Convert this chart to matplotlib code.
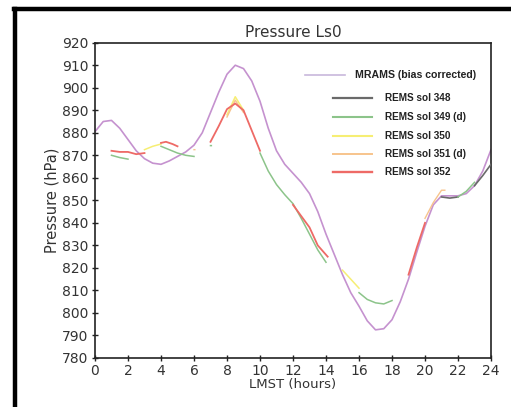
import numpy as np
import matplotlib
matplotlib.use("Agg")
import matplotlib.pyplot as plt
from matplotlib.lines import Line2D

nan = np.nan

# MRAMS model curve (bias corrected), read every half hour
mrams_hours = np.arange(0, 24.5, 0.5)
mrams_p = [880.5, 885, 885.5, 882, 877, 872, 868.5, 866.5, 866, 867.5,
           869.5, 871.5, 874.5, 880, 889, 898, 906, 910, 908.5, 903,
           894, 882, 872, 866, 862, 858, 853, 845, 835, 826,
           817, 809, 803, 796.5, 792.5, 793, 797, 805, 815, 827,
           838.5, 848, 852, 852, 852, 853, 856.5, 863, 872.5]

# REMS observations, NaN splits the segments
sol348_h = [21, 21.5, 22, nan, 23, 23.5, 24]
sol348_p = [851.5, 851, 851.5, nan, 856.5, 861, 866]

sol349_h = [1, 1.5, 2, nan, 4, 4.5, 5, 5.5, 6, nan, 7, 7.05, nan,
            10, 10.5, 11, 11.5, 12, 12.5, 13, 13.5, 14, nan,
            16, 16.5, 17, 17.5, 18, nan, 22, 22.5, 23]
sol349_p = [870, 869, 868.3, nan, 874, 872.5, 871, 870, 869.5, nan, 874.3, 874.3, nan,
            871, 863, 857, 852.5, 848.5, 842, 835, 828, 822.5, nan,
            809, 806, 804.5, 804, 805.5, nan, 851.5, 854, 858]

sol350_h = [3, 3.5, 4, nan, 8, 8.5, 9, nan, 15, 15.5, 16]
sol350_p = [872.5, 874, 875, nan, 888, 896, 890, nan, 819, 815, 811]

sol351_h = [6, 6.05, nan, 8, 8.5, 9, nan, 20, 20.5, 21, 21.2]
sol351_p = [872.5, 872.5, nan, 887, 894.5, 889, nan, 842, 849, 854.5, 854.5]

sol352_h = [1, 1.5, 2, 2.5, 3, nan, 4, 4.3, 4.7, 5, nan,
            7, 7.5, 8, 8.5, 9, 9.5, 10, nan,
            12, 12.5, 13, 13.5, 14.1, nan, 19, 19.5, 20]
sol352_p = [872, 871.5, 871.5, 870.5, 871, nan, 875.5, 876, 875, 874, nan,
            876, 883, 890.5, 893, 890, 881, 872, nan,
            848, 843, 838, 830, 825, nan, 817, 829, 840]

series = [
    ("REMS sol 348", sol348_h, sol348_p, "#6a6a6a", 1.2),
    ("REMS sol 349 (d)", sol349_h, sol349_p, "#8cc48a", 1.1),
    ("REMS sol 350", sol350_h, sol350_p, "#f6ee74", 1.1),
    ("REMS sol 351 (d)", sol351_h, sol351_p, "#f7c48c", 1.0),
    ("REMS sol 352", sol352_h, sol352_p, "#ee6a66", 1.3),
]

fig = plt.figure(figsize=(5.11, 4.07), dpi=100)
ax = fig.add_axes([0.1859, 0.1204, 0.775, 0.7747])

ax.plot(mrams_hours, mrams_p, color="#c592cf", lw=1.2, zorder=2)
for name, h, p, c, w in series:
    ax.plot(h, p, color=c, lw=w, zorder=3)

ax.set_xlim(0, 24)
ax.set_ylim(780, 920)
ax.set_xticks(np.arange(0, 25, 2))
ax.set_yticks(np.arange(780, 921, 10))
ax.tick_params(direction="inout", length=5, width=1, colors="#222222",
               labelcolor="#333333", labelsize=10, pad=2)
for s in ax.spines.values():
    s.set_color("#222222")
    s.set_linewidth(1.2)

ax.set_title("Pressure Ls0", fontsize=11, color="#333333", pad=4)
ax.set_ylabel("Pressure (hPa)", fontsize=10.5, color="#333333", labelpad=2)
ax.set_xlabel("LMST (hours)", fontsize=9.5, color="#333333", labelpad=0)

# legend drawn by hand to keep its staggered layout
ax.add_line(Line2D([0.530, 0.631], [0.898, 0.898], transform=ax.transAxes,
                   color="#c8b8dc", lw=1.2))
ax.text(0.657, 0.898, "MRAMS (bias corrected)", transform=ax.transAxes,
        fontsize=7.6, fontweight="bold", family="Liberation Sans",
        va="center", color="#222222")
leg_y = [0.825, 0.765, 0.704, 0.647, 0.590]
for (name, h, p, c, w), yy in zip(series, leg_y):
    ax.add_line(Line2D([0.601, 0.699], [yy, yy], transform=ax.transAxes,
                       color=c, lw=w + 0.4))
    ax.text(0.732, yy, name, transform=ax.transAxes, fontsize=7.2,
            fontweight="bold", family="Liberation Sans", va="center",
            color="#222222")

# black frame of the original figure (left and top)
fig.add_artist(Line2D([0.0294, 0.0294], [0, 0.9767], transform=fig.transFigure,
                      color="black", lw=3.2))
fig.add_artist(Line2D([0.0265, 1], [0.9767, 0.9767], transform=fig.transFigure,
                      color="black", lw=3.2))

fig.savefig("out.png", dpi=100)
